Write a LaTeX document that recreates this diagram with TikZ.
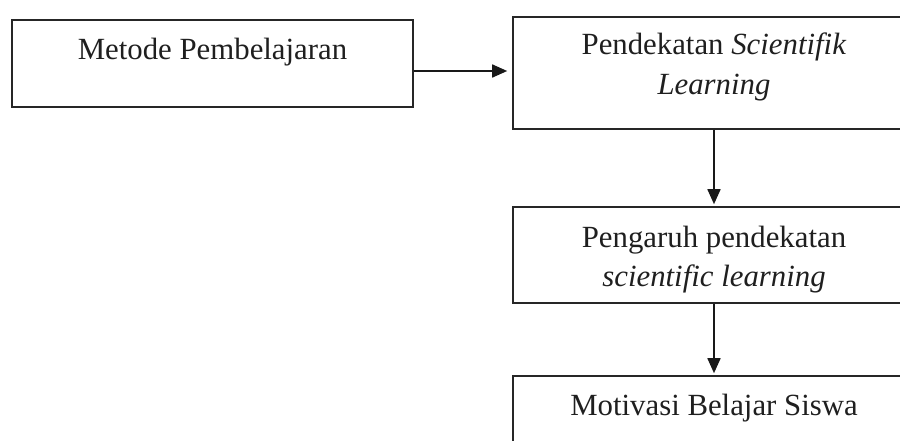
\documentclass[tikz,border=0pt]{standalone}
\usepackage{fontspec}
\setmainfont{Liberation Serif}
\usetikzlibrary{arrows.meta}
\begin{document}
\begin{tikzpicture}[x=1pt,y=-1pt,
  box/.style={draw=black!85, line width=1.6pt, rectangle, inner sep=0pt, minimum width=402pt},
  txt/.style={anchor=base, inner sep=0pt, font=\fontsize{30.8}{36}\selectfont, text=black!88},
  conn/.style={draw=black!90, line width=1.7pt, -{Triangle[length=15pt,width=13pt]}}]
\useasboundingbox (0,0) rectangle (900,441);
\clip (0,0) rectangle (900,441);
\node[box, minimum width=401pt, minimum height=87pt] (b1) at (212.5,63.5) {};
\node[box, minimum height=112pt] (b2) at (714,73) {};
\node[box, minimum height=96pt] (b3) at (714,255) {};
\node[box, minimum height=96pt] (b4) at (714,424) {};
\node[txt] (t1) at (212.5,60) {Metode Pembelajaran};
\node[txt] (t2a) at (714,54.5) {Pendekatan \textit{Scientifik}};
\node[txt] (t2b) at (714,94.5) {\textit{Learning}};
\node[txt] (t3a) at (714,247.5) {Pengaruh pendekatan};
\node[txt] (t3b) at (714,286.5) {\textit{scientific learning}};
\node[txt] (t4) at (714,415.5) {Motivasi Belajar Siswa};
\coordinate (h) at (0,71);
\draw[conn, shorten >=5pt] (b1.east |- h) -- (b2.west |- h);
\draw[conn, shorten >=2pt] (b2.south) -- (b3.north);
\draw[conn, shorten >=2pt] (b3.south) -- (b4.north);
\end{tikzpicture}
\end{document}
